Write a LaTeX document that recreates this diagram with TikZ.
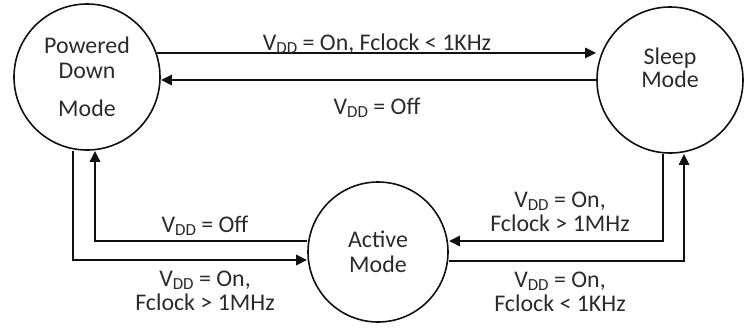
\documentclass[tikz,border=0pt]{standalone}
\usepackage{fontspec}
\setmainfont{Carlito}
\usetikzlibrary{arrows.meta,calc}
\definecolor{Ink}{HTML}{111111}
\definecolor{Type}{HTML}{2E2A2A}
\newcommand{\vdd}{V\raisebox{-3bp}{\fontsize{17}{17}\selectfont DD}}
\newcommand{\figbackground}[2]{
  \path[use as bounding box] (0,0) rectangle (#1,#2);
  \fill[white] (0,0) rectangle (#1,#2);
}
\tikzset{
  state/.style={circle,draw=Ink,line width=1.6bp,minimum size=146bp,inner sep=0bp,
    text=Type,align=center,font=\fontsize{24}{25}\selectfont},
  cond/.style={text=Type,align=center,inner sep=0bp,anchor=base,
    font=\fontsize{24}{23.5}\selectfont},
  flow/.style={draw=Ink,line width=2.6bp,-{Triangle[length=11bp,width=10bp]}},
}

\begin{document}
\begin{tikzpicture}[x=1bp,y=-1bp]
  \figbackground{754}{334}

  % the three modes
  \node[state] (pd) at (87,77) {Powered\\Down\\[13bp]Mode};
  \node[state] (sleep) at (670,80) {};
  \node[cond,anchor=center] (sleeptext) at (670,68) {Sleep\\Mode};
  \node[state,minimum size=140bp] (act) at (378,252) {Active\\Mode};

  % transitions
  \draw[flow] (pd.19) -- (pd.19 -| sleep.west);
  \draw[flow] (sleep.west) -- (sleep.west -| pd.east);
  \draw[flow] ($(pd.south)+(-14,0)$) |- ($(act.west)+(0,8)$);
  \draw[flow] ($(act.west)+(0,-11)$) -| ($(pd.south)+(8,0)$);
  \draw[flow] ($(sleep.south)+(-7,0)$) |- ($(act.east)+(0,-11)$);
  \draw[flow] ($(act.east)+(0,9)$) -| ($(sleep.south)+(14,0)$);

  % conditions (base = last line)
  \node[cond] (sleepon) at (377,50) {\vdd{} = On, Fclock < 1KHz};
  \node[cond] (pdoff) at (377,114) {\vdd{} = Off};
  \node[cond] (actoff) at (205,232) {\vdd{} = Off};
  \node[cond] (acton) at (205,310) {\vdd{} = On,\\Fclock > 1MHz};
  \node[cond] (wake) at (560,231) {\vdd{} = On,\\Fclock > 1MHz};
  \node[cond] (slow) at (560,311) {\vdd{} = On,\\Fclock < 1KHz};
\end{tikzpicture}
\end{document}
